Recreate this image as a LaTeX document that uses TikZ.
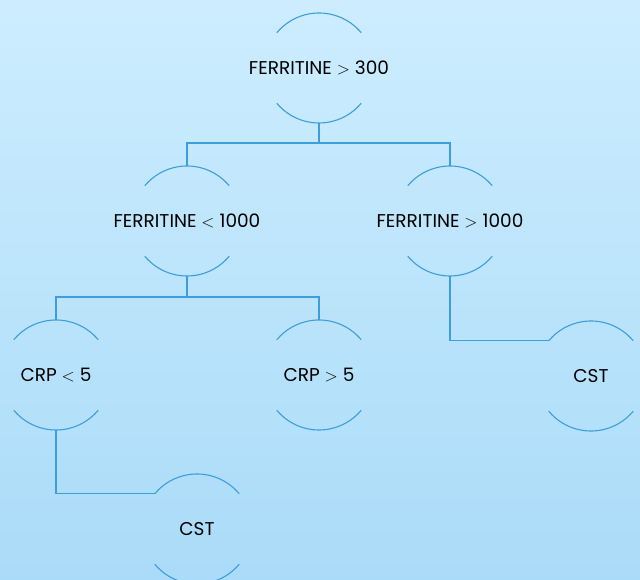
\documentclass[tikz,border=0pt]{standalone}
\usepackage{fontspec}
\setmainfont{Poppins}
\usetikzlibrary{calc}
\definecolor{bgtop}{RGB}{205,237,255}
\definecolor{bgbot}{RGB}{170,219,248}
\definecolor{linkc}{RGB}{60,158,220}
\tikzset{
  ring/.style={circle, minimum size=110pt, inner sep=0pt, outer sep=0pt, draw=none},
  lbl/.style={inner sep=0pt, font=\fontsize{18.5}{21}\selectfont, text=black},
  link/.style={draw=linkc, line width=1.3pt},
  arcs/.style={draw=linkc, line width=1.1pt},
}
\newcommand{\halfarcs}[1]{%
  \draw[arcs] (#1.40) arc[start angle=40, end angle=140, radius=55pt];
  \draw[arcs] (#1.220) arc[start angle=220, end angle=320, radius=55pt];
}
\newcommand{\gtsym}{\ $>$\ }
\newcommand{\ltsym}{\ $<$\ }
\begin{document}
\begin{tikzpicture}[x=1pt,y=1pt]
\shade[top color=bgtop, bottom color=bgbot] (0,0) rectangle (640,580);
\useasboundingbox (0,0) rectangle (640,580);

\node[ring] (root) at (319,512) {};
\node[lbl] (rootT) at (root) {FERRITINE\gtsym300};
\node[ring] (L) at (187,359) {};
\node[lbl] (LT) at (L) {FERRITINE\ltsym1000};
\node[ring] (R) at (450,359) {};
\node[lbl] (RT) at (R) {FERRITINE\gtsym1000};
\node[ring] (c1) at (56,205) {};
\node[lbl] (c1T) at (c1) {CRP\ltsym5};
\node[ring] (c2) at (319,205) {};
\node[lbl] (c2T) at (c2) {CRP\gtsym5};
\node[ring] (cst1) at (197,51) {};
\node[lbl] (cst1T) at (cst1) {CST};
\node[ring] (cst2) at (591,204) {};
\node[lbl] (cst2T) at (cst2) {CST};

\halfarcs{root}
\halfarcs{L}
\halfarcs{R}
\halfarcs{c1}
\halfarcs{c2}
\halfarcs{cst1}
\halfarcs{cst2}

\draw[link] (root.south) -- ++(0,-20) -| (L.north);
\draw[link] (root.south) -- ++(0,-20) -| (R.north);
\draw[link] (L.south) -- ++(0,-21) -| (c1.north);
\draw[link] (L.south) -- ++(0,-21) -| (c2.north);
\draw[link] (c1.south) |- (cst1.140);
\draw[link] (R.south) |- (cst2.140);
\end{tikzpicture}
\end{document}
